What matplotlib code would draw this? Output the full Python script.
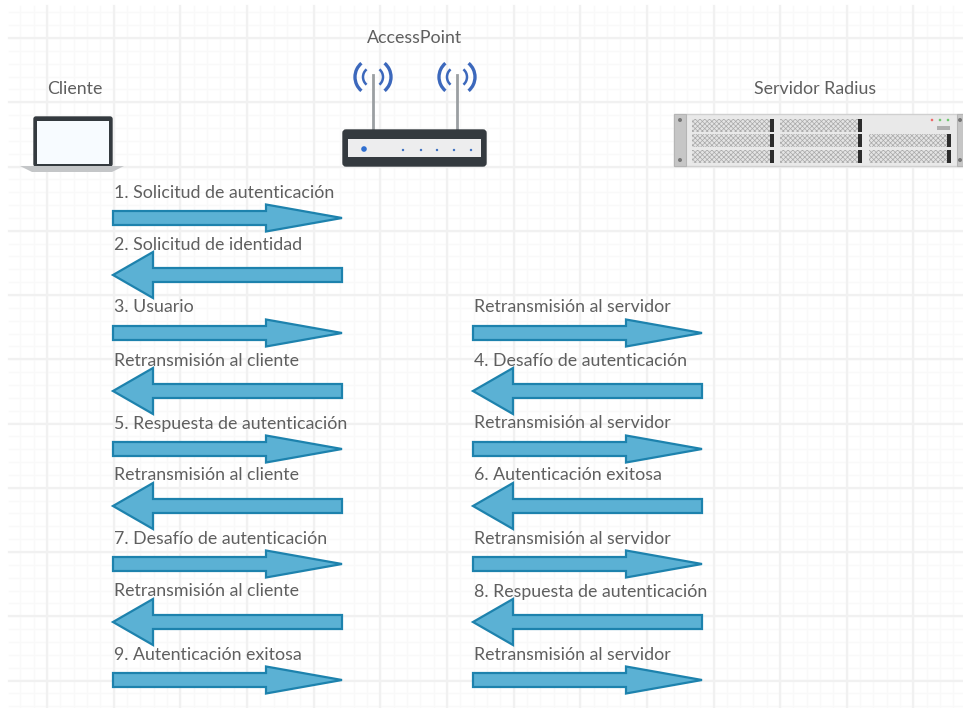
import numpy as np
import matplotlib
matplotlib.use("Agg")
import matplotlib.pyplot as plt
from matplotlib.patches import Rectangle, FancyArrow, FancyBboxPatch, Arc, Polygon, Circle

plt.rcParams['font.family'] = ['Lato', 'DejaVu Sans']
plt.rcParams['hatch.linewidth'] = 0.5

# node names
node_names = ["Cliente", "AccessPoint", "Servidor Radius"]
node_x = [75, 415, 815]
node_y = [89, 38, 89]

# left column: label, row centre, direction
left_labels = ["1. Solicitud de autenticación", "2. Solicitud de identidad", "3. Usuario",
               "Retransmisión al cliente", "5. Respuesta de autenticación",
               "Retransmisión al cliente", "7. Desafío de autenticación",
               "Retransmisión al cliente", "9. Autenticación exitosa"]
left_dirs = [1, -1, 1, -1, 1, -1, 1, -1, 1]
left_rows = [218, 275, 333, 391, 449, 506, 564, 622, 680]

# right column
right_labels = ["Retransmisión al servidor", "4. Desafío de autenticación",
                "Retransmisión al servidor", "6. Autenticación exitosa",
                "Retransmisión al servidor", "8. Respuesta de autenticación",
                "Retransmisión al servidor"]
right_dirs = [1, -1, 1, -1, 1, -1, 1]
right_rows = [333, 391, 449, 506, 564, 622, 680]

text_col = "#5f5f5f"
fill_col = "#5bb1d4"
edge_col = "#1d82ad"
blue = "#3c68bc"
dark = "#343a3f"

fig = plt.figure(figsize=(9.63, 7.08), dpi=100)
ax = fig.add_axes([0, 0, 1, 1])
ax.set_xlim(0, 963)
ax.set_ylim(708, 0)
ax.axis("off")

# grid paper
for x in np.arange(47 - 13.33 * 2, 963, 13.33):
    ax.plot([x, x], [6, 708], color="#f9f9f9", lw=1, zorder=1)
for y in np.arange(38 - 12.85 * 2, 708, 12.85):
    ax.plot([9, 963], [y, y], color="#f9f9f9", lw=1, zorder=1)
for x in np.arange(47, 963, 66.65):
    ax.plot([x, x], [6, 708], color="#f1f1f1", lw=1.6, zorder=1.5)
for y in np.arange(38, 708, 64.25):
    ax.plot([9, 963], [y, y], color="#f1f1f1", lw=1.6, zorder=1.5)

for name, x, y in zip(node_names, node_x, node_y):
    ax.text(x, y, name, ha="center", va="center", fontsize=12.8, color=text_col, zorder=5)


def draw_arrow(x0, x1, row, direction):
    # right pointing heads are long and thin, left pointing ones short and tall
    if direction > 0:
        ax.add_patch(FancyArrow(x0, row, x1 - x0, 0, width=14, head_width=27, head_length=76,
                                length_includes_head=True, fc=fill_col, ec=edge_col, lw=1.6, zorder=4))
    else:
        ax.add_patch(FancyArrow(x1, row, x0 - x1, 0, width=14, head_width=46, head_length=40,
                                length_includes_head=True, fc=fill_col, ec=edge_col, lw=1.6, zorder=4))


def draw_labels(labels, rows, dirs, x0, x1):
    for label, row, direction in zip(labels, rows, dirs):
        draw_arrow(x0, x1, row, direction)
        offset = 25.5 if direction > 0 else 30.5
        ax.text(x0 + 1.5, row - offset, label, ha="left", va="center", fontsize=12.8, color=text_col, zorder=5)


draw_labels(left_labels, left_rows, left_dirs, 113, 342)
draw_labels(right_labels, right_rows, right_dirs, 473, 702)

# laptop
ax.add_patch(FancyBboxPatch((34, 117), 78, 49, boxstyle="round,pad=0,rounding_size=2", fc=dark, ec=dark, lw=1, zorder=3))
ax.add_patch(Rectangle((37, 121), 72, 43, fc="#f7fbff", ec="none", zorder=3.1))
ax.add_patch(Polygon([[20, 166], [124, 166], [112, 172], [32, 172]], fc="#c4c6c8", ec="none", zorder=3))

# router
for ax_x in [373, 457]:
    ax.plot([ax_x, ax_x], [75, 131], color="#9b9fa2", lw=2, zorder=3)
    for r, lw in [(10, 1.8), (18, 2.4)]:
        ax.add_patch(Arc((ax_x, 77), r * 2, r * 2, theta1=-50, theta2=50, color=blue, lw=lw, zorder=3))
        ax.add_patch(Arc((ax_x, 77), r * 2, r * 2, theta1=130, theta2=230, color=blue, lw=lw, zorder=3))
ax.add_patch(FancyBboxPatch((343, 130), 143, 36, boxstyle="round,pad=0,rounding_size=3", fc=dark, ec=dark, lw=1, zorder=3))
ax.add_patch(Rectangle((348, 139), 133, 18, fc="#ededee", ec="none", zorder=3.1))
ax.add_patch(Circle((364, 149), 2.8, fc="#2f6fd0", ec="none", zorder=3.2))
for led_x in [403, 421, 437, 454, 471]:
    ax.add_patch(Circle((led_x, 150), 1.2, fc="#3b6fc0", ec="none", zorder=3.2))

# server
ax.add_patch(Rectangle((674, 114), 289, 52, fc="#e9e9e9", ec="#d0d0d0", lw=1, zorder=3))
for ear_x in [674, 957]:
    ax.add_patch(Rectangle((ear_x, 114), 12 if ear_x == 674 else 6, 52, fc="#c6c6c6", ec="#b5b5b5", lw=0.8, zorder=3.1))
for sx, sy in [(680, 120), (680, 160), (960, 120), (960, 160)]:
    ax.add_patch(Circle((sx, sy), 2, fc="#777777", ec="none", zorder=3.2))
for bay_x in [692, 780, 869]:
    for bay_y in [119, 134, 150]:
        if bay_x == 869 and bay_y == 119:
            continue
        ax.add_patch(Rectangle((bay_x, bay_y), 78, 13, fc="#e4e4e4", ec="#a9a9a9", hatch="xxxxxxx", lw=0, zorder=3.2))
        ax.add_patch(Rectangle((bay_x + 78, bay_y), 4, 13, fc="#2c2c2c", ec="none", zorder=3.3))
for led_x, led_c in zip([932, 940, 948], ["#ee6a6a", "#70c870", "#70c870"]):
    ax.add_patch(Circle((led_x, 120), 1.3, fc=led_c, ec="none", zorder=3.3))
ax.add_patch(Rectangle((937, 126), 13, 4, fc="#b0b0b0", ec="none", zorder=3.3))

fig.savefig("out.png", dpi=100)
